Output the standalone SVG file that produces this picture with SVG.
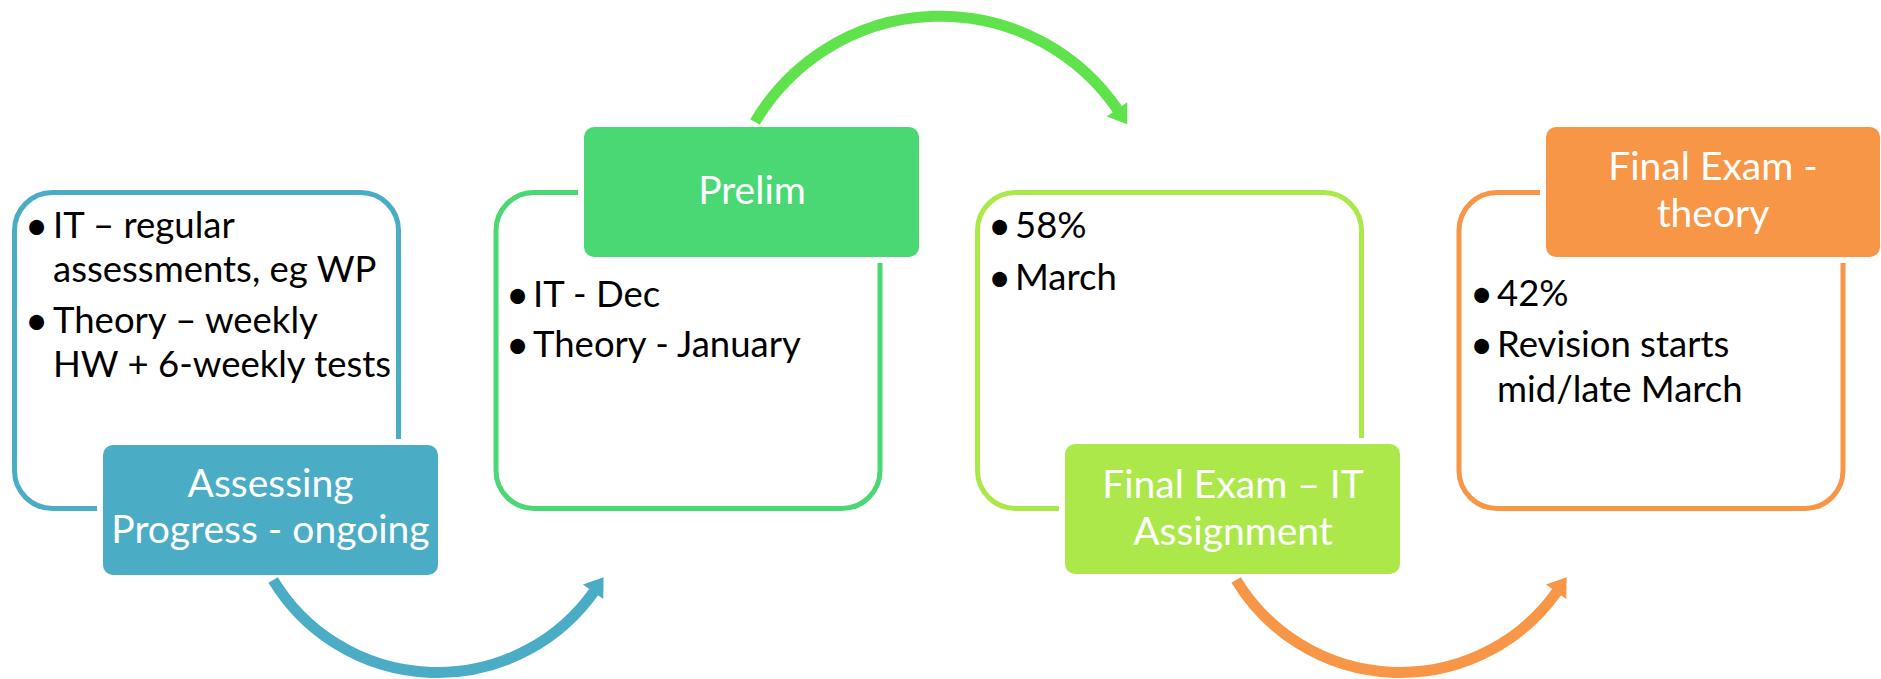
<svg xmlns="http://www.w3.org/2000/svg" width="1881" height="679" viewBox="0 0 1881 679">
<style>
.outline{fill:#ffffff;stroke-width:5}
.gap{fill:#ffffff}
.lbl{font-family:Lato,"Liberation Sans",sans-serif;font-size:39px;fill:#ffffff;text-anchor:middle}
.txt{font-family:Lato,"Liberation Sans",sans-serif;font-size:36.5px;fill:#000000}
.bul{font-family:Lato,"Liberation Sans",sans-serif;font-size:40px;fill:#000000;text-anchor:middle}
.arc{fill:none;stroke-width:11}
</style>
<rect width="1881" height="679" fill="#ffffff"/>
<g id="node-assessing">
<rect class="outline" x="14.5" y="192.5" width="384" height="316" rx="38" stroke="#4BACC6"/>
<rect class="gap" x="97" y="439" width="347" height="142" rx="14"/>
<rect x="103" y="445" width="335" height="130" rx="10" fill="#4BACC6"/>
<text class="lbl" x="270.5" y="497">Assessing</text>
<text class="lbl" x="270.5" y="543">Progress - ongoing</text>
<text class="bul" x="36.5" y="240">•</text>
<text class="txt" x="53" y="238">IT – regular</text>
<text class="txt" x="53" y="282">assessments, eg WP</text>
<text class="bul" x="36.5" y="335">•</text>
<text class="txt" x="53" y="333">Theory – weekly</text>
<text class="txt" x="53" y="377">HW + 6-weekly tests</text>
</g>
<g id="node-prelim">
<rect class="outline" x="496" y="192.5" width="384" height="316" rx="38" stroke="#4AD874"/>
<rect class="gap" x="578" y="121" width="347" height="142" rx="14"/>
<rect x="584" y="127" width="335" height="130" rx="10" fill="#4AD874"/>
<text class="lbl" x="752" y="204">Prelim</text>
<text class="bul" x="517.5" y="309">•</text>
<text class="txt" x="533" y="307">IT - Dec</text>
<text class="bul" x="517.5" y="359">•</text>
<text class="txt" x="533" y="357">Theory - January</text>
</g>
<g id="node-final-it">
<rect class="outline" x="977.5" y="192.5" width="384" height="316" rx="38" stroke="#ADE84A"/>
<rect class="gap" x="1059" y="438" width="347" height="142" rx="14"/>
<rect x="1065" y="444" width="335" height="130" rx="10" fill="#ADE84A"/>
<text class="lbl" x="1233" y="498">Final Exam – IT</text>
<text class="lbl" x="1233" y="545">Assignment</text>
<text class="bul" x="999.5" y="240">•</text>
<text class="txt" x="1015" y="238">58%</text>
<text class="bul" x="999.5" y="292">•</text>
<text class="txt" x="1015" y="290">March</text>
</g>
<g id="node-final-theory">
<rect class="outline" x="1459" y="192.5" width="384" height="316" rx="38" stroke="#F79646"/>
<rect class="gap" x="1540" y="121" width="346" height="142" rx="14"/>
<rect x="1546" y="127" width="334" height="130" rx="10" fill="#F79646"/>
<text class="lbl" x="1713" y="180">Final Exam -</text>
<text class="lbl" x="1713" y="227">theory</text>
<text class="bul" x="1481.5" y="308">•</text>
<text class="txt" x="1497" y="306">42%</text>
<text class="bul" x="1481.5" y="359">•</text>
<text class="txt" x="1497" y="357">Revision starts</text>
<text class="txt" x="1497" y="402">mid/late March</text>
</g>
<g id="connectors">
<path class="arc" stroke="#4BACC6" d="M 273.1 580 A 192 192 0 0 0 594.5 590.8"/>
<polygon fill="#4BACC6" points="582.9,584.5 603.6,577.2 603.3,599.1"/>
<path class="arc" stroke="#5FE24B" d="M 755 122 A 215 215 0 0 1 1118 110.2"/>
<polygon fill="#5FE24B" points="1106.7,116.5 1127.3,102.3 1127.2,124.2"/>
<path class="arc" stroke="#F79646" d="M 1236.1 580 A 192 192 0 0 0 1557.5 590.8"/>
<polygon fill="#F79646" points="1545.9,584.5 1566.6,577.2 1566.3,599.1"/>
</g>
</svg>
